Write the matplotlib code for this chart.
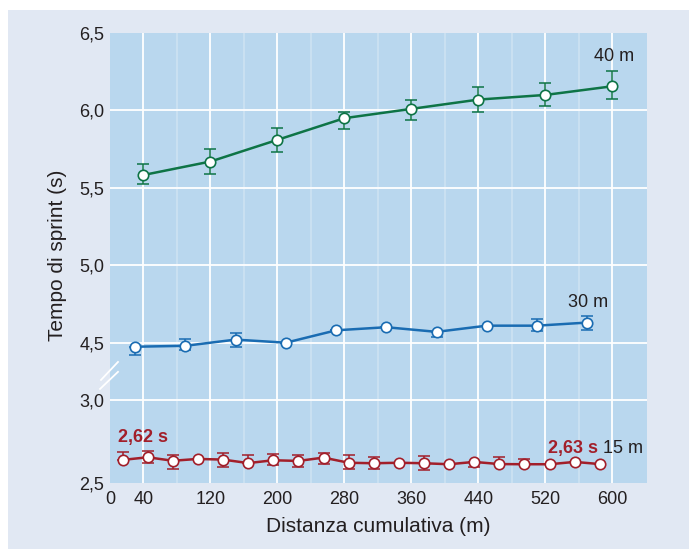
import numpy as np
import matplotlib
matplotlib.use("Agg")
import matplotlib.pyplot as plt
from matplotlib.patches import Rectangle

plt.rcParams['font.family'] = ['Liberation Sans', 'DejaVu Sans']

# ---------------- data ----------------
x_15 = [15, 45, 75, 105, 135, 165, 195, 225, 255, 285,
        315, 345, 375, 405, 435, 465, 495, 525, 555, 585]
y_15 = [2.639, 2.655, 2.634, 2.645, 2.641, 2.620, 2.637, 2.633, 2.653, 2.622,
        2.619, 2.622, 2.619, 2.613, 2.627, 2.614, 2.613, 2.613, 2.627, 2.614]
err_15_lo = [0, .036, .048, 0, .042, 0, .026, .036, .040, .036,
             .036, 0, .042, 0, .032, 0, 0, 0, 0, 0]
err_15_hi = [.048, .036, .036, 0, .042, .046, .040, .038, .028, .048,
             .036, 0, .042, 0, 0, .040, .032, 0, 0, 0]

x_30 = [30, 90, 150, 210, 270, 330, 390, 450, 510, 570]
y_30 = [4.474, 4.48, 4.52, 4.50, 4.58, 4.60, 4.57, 4.61, 4.61, 4.63]
err_30_lo = [.056, .03, .047, 0, 0, 0, .034, 0, .037, .047]
err_30_hi = [0, .045, .041, 0, 0, 0, 0, 0, .041, .043]

x_40 = [40, 120, 200, 280, 360, 440, 520, 600]
y_40 = [5.583, 5.67, 5.81, 5.95, 6.01, 6.07, 6.10, 6.156]
err_40_lo = [.058, .082, .080, .069, .075, .082, .069, .082]
err_40_hi = [.073, .084, .077, .043, .058, .082, .077, .099]

xticks = [0, 40, 120, 200, 280, 360, 440, 520, 600]
xminor = [80, 160, 240, 320, 400, 480, 560]
yticks = [2.5, 3.0, 4.5, 5.0, 5.5, 6.0, 6.5]
yticklabels = ["2,5", "3,0", "4,5", "5,0", "5,5", "6,0", "6,5"]

label_15 = "15 m"
label_30 = "30 m"
label_40 = "40 m"
first_15 = "2,62 s"
last_15 = "2,63 s"

# ---------------- broken y scale ----------------
def fwd(y):
    y = np.asarray(y, dtype=float)
    lo = (y - 2.5) * 166.0
    mid = 83.0 + (y - 3.0) * (109.33 - 83.0) / 1.3
    up = 140.3 + (y - 4.5) * 154.85
    return np.where(y <= 3.0, lo, np.where(y < 4.3, mid, up))

def inv(d):
    d = np.asarray(d, dtype=float)
    lo = 2.5 + d / 166.0
    mid = 3.0 + (d - 83.0) * 1.3 / (109.33 - 83.0)
    up = 4.5 + (d - 140.3) / 154.85
    return np.where(d <= 83.0, lo, np.where(d < 109.33, mid, up))

# ---------------- figure ----------------
W, H = 689, 549
fig = plt.figure(figsize=(W / 100, H / 100), dpi=100, facecolor='white')
fig.patches.append(Rectangle((8 / W, 0), 1 - 8 / W, 1 - 10 / H,
                             transform=fig.transFigure, facecolor='#E1E8F3',
                             edgecolor='none', zorder=-10))

ax = fig.add_axes([110 / W, (H - 483) / H, 536.7 / W, 450 / H])
ax.set_facecolor('#B9D7EE')
ax.set_yscale('function', functions=(fwd, inv))
ax.set_xlim(0, 641)
ax.set_ylim(2.5, 6.5)

for s in ax.spines.values():
    s.set_visible(False)

ax.set_xticks(xticks)
ax.set_xticks(xminor, minor=True)
ax.set_yticks(yticks)
ax.set_yticklabels(yticklabels)
ax.yaxis.set_minor_locator(matplotlib.ticker.NullLocator())
ax.tick_params(axis='both', which='both', length=0, labelsize=13,
               labelcolor='#231F20')
ax.tick_params(axis='x', pad=6)
ax.tick_params(axis='y', pad=4)

ax.grid(True, which='major', color='white', linewidth=1.3, zorder=0)
ax.grid(True, which='minor', axis='x', color='#CBE1F2', linewidth=1.3, zorder=0)
ax.set_axisbelow(True)
ax.xaxis.get_major_ticks()[0].gridline.set_visible(False)
for t in (ax.yaxis.get_major_ticks()[0], ax.yaxis.get_major_ticks()[-1]):
    t.gridline.set_visible(False)

green = '#0E7446'
blue = '#1A6CB2'
red = '#A21F2A'

def series(x, y, lo, hi, color):
    ax.errorbar(x, y, yerr=[lo, hi], fmt='none', ecolor=color, elinewidth=1.1,
                capsize=4.5, capthick=1.1, zorder=2)
    ax.plot(x, y, '-o', color=color, linewidth=1.8, markersize=7.5,
            markerfacecolor='white', markeredgecolor=color,
            markeredgewidth=1.2, zorder=3)

series(x_40, y_40, err_40_lo, err_40_hi, green)
series(x_30, y_30, err_30_lo, err_30_hi, blue)
series(x_15, y_15, err_15_lo, err_15_hi, red)

txt = '#231F20'
ax.annotate(label_40, xy=(x_40[-1], y_40[-1]), xytext=(2, 30),
            textcoords='offset pixels', ha='center', va='center',
            fontsize=13, color=txt)
ax.annotate(label_30, xy=(x_30[-1], y_30[-1]), xytext=(1, 20),
            textcoords='offset pixels', ha='center', va='center',
            fontsize=13, color=txt)
ax.annotate(label_15, xy=(x_15[-1], y_15[-1]), xytext=(3, 16),
            textcoords='offset pixels', ha='left', va='center',
            fontsize=13, color=txt)
ax.annotate(last_15, xy=(x_15[-1], y_15[-1]), xytext=(-2, 16),
            textcoords='offset pixels', ha='right', va='center',
            fontsize=13, color=red, fontweight='bold')
ax.annotate(first_15, xy=(x_15[0], y_15[0]), xytext=(-5, 22),
            textcoords='offset pixels', ha='left', va='center',
            fontsize=13, color=red, fontweight='bold')

# axis break marks
for (x0, y0, x1, y1) in [(-0.0168, 0.229, 0.0149, 0.269),
                         (-0.0186, 0.209, 0.0149, 0.247)]:
    ax.plot([x0, x1], [y0, y1], transform=ax.transAxes, color='white',
            linewidth=1.3, clip_on=False, zorder=5)

ax.set_xlabel("Distanza cumulativa (m)", fontsize=15, color=txt)
ax.set_ylabel("Tempo di sprint (s)", fontsize=15, color=txt)
ax.xaxis.set_label_coords(0.5, -0.076)
ax.yaxis.set_label_coords(-0.081, 0.506)

fig.savefig('out.png', dpi=100, facecolor='white')
